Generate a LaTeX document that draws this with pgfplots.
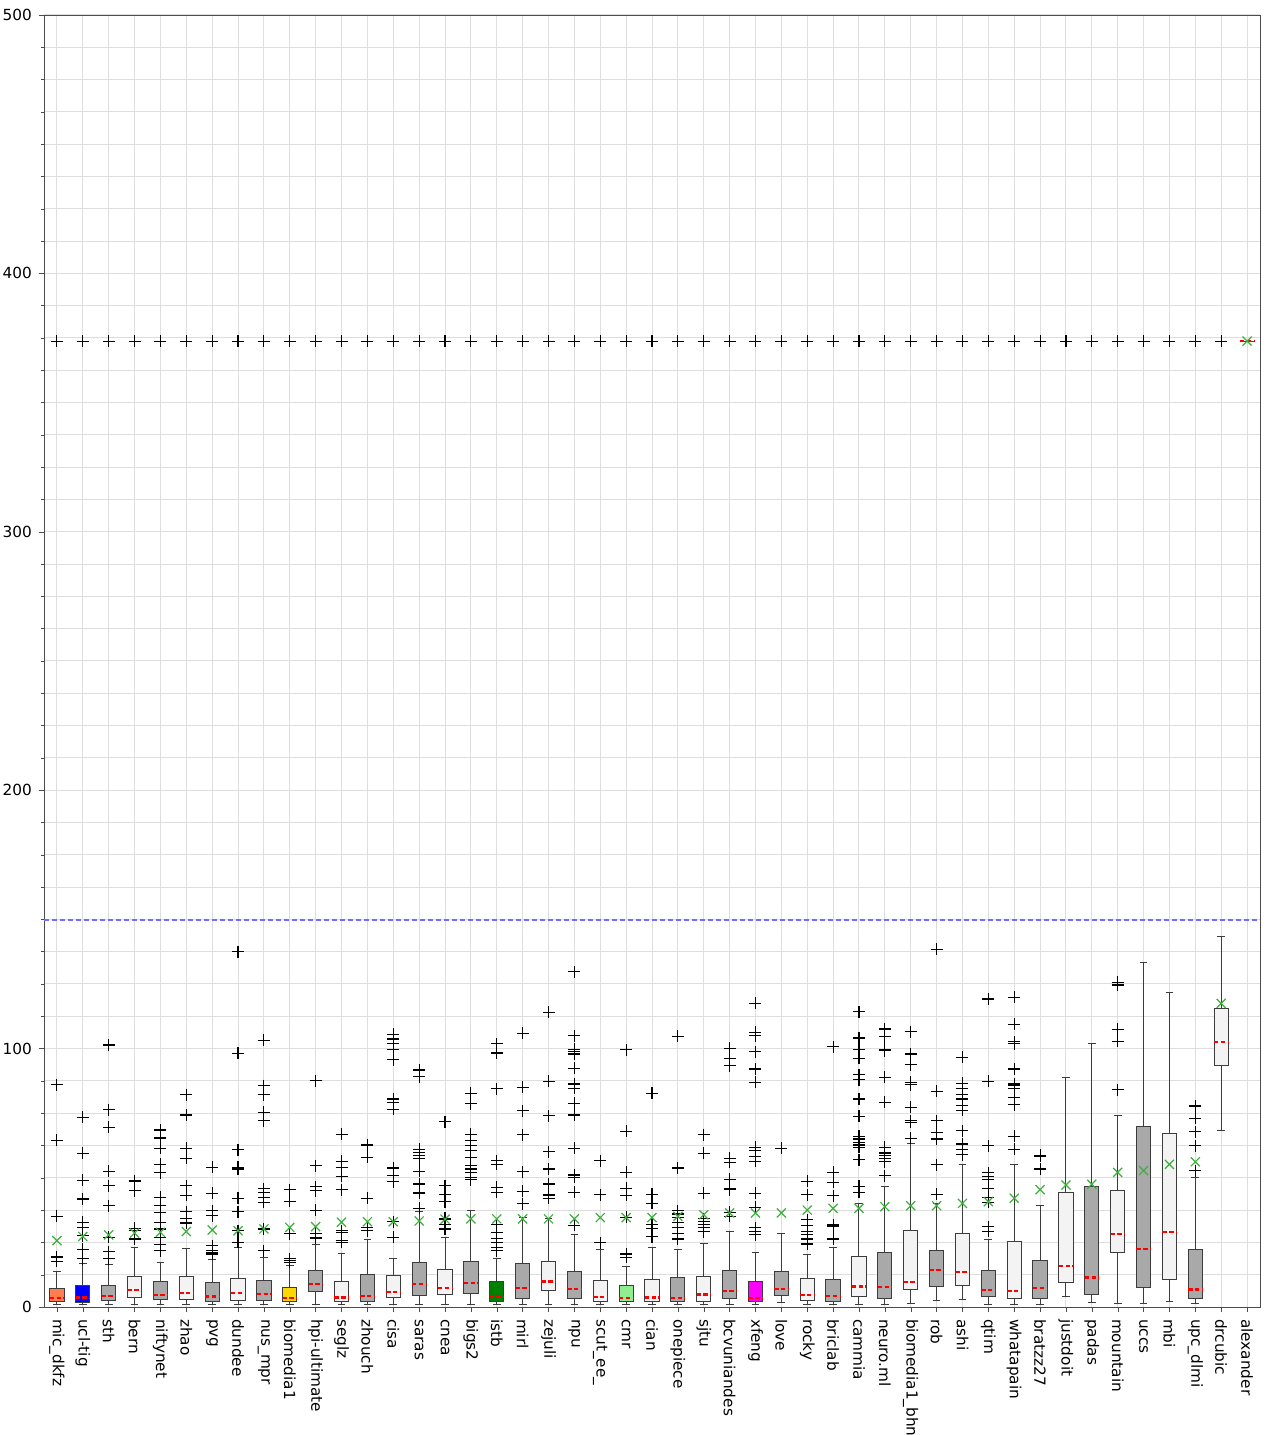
\documentclass[border=0pt]{standalone}
\usepackage{pgfplots}
\pgfplotsset{compat=1.18}
\usepgfplotslibrary{statistics}
\usepackage{fontspec}
\setmainfont{DejaVu Sans}
\definecolor{boxgray}{RGB}{169,169,169}
\definecolor{boxwhite}{RGB}{243,243,243}
\definecolor{micc}{RGB}{255,127,80}
\definecolor{meangreen}{RGB}{60,175,60}
\definecolor{boxedge}{RGB}{60,60,60}
\definecolor{refblue}{RGB}{110,110,255}
\definecolor{mag}{RGB}{255,0,255}
\definecolor{pureblue}{RGB}{0,0,255}
\definecolor{gold}{RGB}{255,215,0}
\definecolor{dgreen}{RGB}{0,128,0}
\definecolor{lgreen}{RGB}{144,238,144}
\newcommand{\bp}[8]{\addplot[boxplot prepared={draw position=#1,lower whisker=#3,lower quartile=#4,median=#5,upper quartile=#6,upper whisker=#7}, fill=#2, draw=boxedge, line width=0.5pt, mark=+, mark size=3pt, mark options={draw=black, solid, line width=0.55pt}] table[row sep=\\, y index=0, header=false] {#8};}
\begin{document}
\begin{tikzpicture}
\useasboundingbox (-22pt,-64pt) rectangle (613.5pt,653.5pt);
\begin{axis}[
  scale only axis, width=608pt, height=646pt,
  xmin=-0.5, xmax=46.5, ymin=0, ymax=500,
  xtick={0,...,46},
  xticklabels={mic\_dkfz,ucl-tig,sth,bern,niftynet,zhao,pvg,dundee,nus\_mpr,biomedia1,hpi-ultimate,seglz,zhouch,cisa,saras,cnea,bigs2,istb,mirl,zejuli,npu,scut\_ee\_,cmr,cian,onepiece,sjtu,bcvuniandes,xfeng,love,rocky,briclab,cammia,neuro.ml,biomedia1\_bhn,rob,ashi,qtim,whatapain,bratzz27,justdoit,padas,mountain,uccs,mbi,upc\_dlmi,drcubic,alexander},
  xticklabel style={rotate=-90, anchor=west, font=\fontsize{7.65}{9}\selectfont},
  yticklabel style={font=\fontsize{7.65}{9}\selectfont},
  ytick={0,100,...,500}, minor y tick num=7,
  tick pos=left, tick align=outside,
  major tick length=2.5pt, minor tick length=1.5pt,
  grid=both,
  major grid style={black!13, line width=0.5pt},
  minor grid style={black!13, line width=0.5pt},
  axis line style={black!70},
  tick style={black!70},
  /pgf/number format/assume math mode=true,
  boxplot/draw direction=y,
  boxplot/box extend=0.55, boxplot/whisker extend=0.3,
  boxplot/every median/.style={draw=red, solid, line width=1.1pt, dash pattern=on 2.2pt off 1.2pt},
]
\bp{0}{micc}{1.0}{2.1}{3.4}{7.0}{13.8}{17.7\\19.2\\19.5\\35.1\\64.5\\86.0\\373.8\\}
\bp{1}{pureblue}{1.0}{1.8}{3.7}{8.5}{17.0}{18.6\\22.4\\27.6\\30.6\\32.8\\41.8\\49.1\\59.5\\73.4\\373.8\\}
\bp{2}{boxgray}{1.0}{2.5}{4.4}{8.5}{16.6}{18.6\\21.4\\27.0\\39.2\\47.0\\52.6\\69.5\\76.4\\101.4\\373.8\\}
\bp{3}{boxwhite}{1.0}{3.5}{6.6}{11.9}{23.1}{26.3\\29.5\\30.4\\45.0\\48.6\\48.9\\373.8\\}
\bp{4}{boxgray}{1.0}{2.8}{4.6}{9.9}{17.3}{21.8\\24.1\\27.0\\30.2\\32.8\\36.6\\39.2\\42.4\\51.9\\55.3\\61.5\\65.4\\68.5\\373.8\\}
\bp{5}{boxwhite}{1.0}{2.8}{5.3}{11.7}{22.7}{32.5\\34.3\\36.9\\43.3\\47.0\\57.5\\61.4\\74.3\\82.2\\373.8\\}
\bp{6}{boxgray}{1.0}{2.2}{4.1}{9.3}{18.2}{20.5\\21.2\\21.8\\23.7\\35.3\\37.3\\44.0\\54.1\\373.8\\}
\bp{7}{boxwhite}{1.0}{2.5}{5.3}{11.1}{23.1}{25.0\\29.5\\36.9\\42.1\\53.4\\54.1\\60.8\\98.2\\137.5\\373.8\\}
\bp{8}{boxgray}{1.0}{2.5}{5.0}{10.4}{19.2}{21.8\\30.2\\40.5\\42.4\\44.4\\45.7\\72.1\\75.3\\82.2\\85.7\\103.3\\373.8\\}
\bp{9}{gold}{1.0}{2.1}{3.4}{7.4}{16.0}{17.3\\17.9\\18.6\\28.3\\28.5\\40.9\\45.3\\373.8\\}
\bp{10}{boxgray}{1.0}{5.9}{9.0}{14.2}{24.1}{26.7\\28.6\\37.5\\45.0\\46.6\\54.7\\87.5\\373.8\\}
\bp{11}{boxwhite}{1.0}{2.2}{3.7}{9.8}{20.8}{25.0\\25.7\\28.9\\29.5\\45.3\\50.6\\54.1\\56.4\\66.9\\373.8\\}
\bp{12}{boxgray}{1.0}{2.1}{4.4}{12.5}{26.3}{29.5\\30.8\\42.1\\57.9\\62.7\\373.8\\}
\bp{13}{boxwhite}{1.0}{3.7}{5.9}{12.1}{18.6}{27.0\\33.0\\48.5\\50.8\\53.8\\76.6\\79.2\\80.5\\95.7\\99.8\\102.0\\103.7\\105.6\\373.8\\}
\bp{14}{boxgray}{1.0}{4.4}{9.0}{17.3}{37.0}{38.2\\44.1\\47.6\\52.5\\57.3\\58.6\\59.9\\61.1\\89.1\\91.7\\373.8\\}
\bp{15}{boxwhite}{1.0}{4.9}{7.4}{14.7}{27.0}{30.2\\32.1\\33.8\\34.3\\40.8\\43.7\\47.0\\71.7\\373.8\\}
\bp{16}{boxgray}{1.0}{5.3}{9.3}{17.7}{37.5}{49.3\\50.2\\51.9\\53.4\\54.7\\57.9\\60.5\\62.4\\64.4\\66.9\\78.6\\82.7\\373.8\\}
\bp{17}{dgreen}{1.0}{2.1}{4.0}{9.9}{18.8}{21.8\\23.1\\24.8\\26.6\\28.9\\32.1\\44.4\\46.3\\55.3\\56.6\\84.4\\98.3\\101.8\\373.8\\}
\bp{18}{boxgray}{1.0}{3.1}{7.2}{16.8}{34.7}{39.9\\44.8\\52.4\\66.6\\76.0\\85.0\\106.0\\373.8\\}
\bp{19}{boxwhite}{1.0}{6.3}{9.9}{17.7}{34.1}{42.1\\43.0\\43.7\\47.6\\53.4\\60.1\\74.0\\87.3\\114.0\\373.8\\}
\bp{20}{boxgray}{1.0}{3.4}{7.0}{13.8}{28.0}{31.7\\44.4\\50.2\\51.1\\61.5\\74.3\\78.8\\84.6\\86.3\\92.4\\97.9\\98.9\\99.8\\105.0\\129.8\\373.8\\}
\bp{21}{boxwhite}{1.0}{2.2}{4.0}{10.2}{22.4}{24.8\\43.5\\56.6\\373.8\\}
\bp{22}{lgreen}{1.0}{2.1}{3.4}{8.3}{15.7}{19.2\\20.5\\34.7\\43.3\\45.9\\52.1\\68.0\\99.5\\373.8\\}
\bp{23}{boxwhite}{1.0}{2.2}{3.7}{10.6}{23.1}{27.2\\30.4\\32.1\\40.2\\43.7\\82.7\\373.8\\}
\bp{24}{boxgray}{1.0}{2.1}{3.5}{11.5}{22.1}{26.3\\28.6\\30.8\\32.8\\34.7\\36.0\\37.3\\53.8\\104.7\\373.8\\}
\bp{25}{boxwhite}{1.0}{2.2}{4.8}{11.9}{24.4}{29.2\\30.8\\32.1\\33.0\\34.1\\44.0\\59.5\\66.7\\373.8\\}
\bp{26}{boxgray}{1.0}{3.1}{6.3}{14.1}{29.3}{35.1\\36.6\\45.4\\45.7\\49.5\\56.0\\57.5\\93.4\\96.2\\100.2\\373.8\\}
\bp{27}{mag}{1.0}{2.1}{3.4}{9.8}{21.2}{27.9\\29.2\\30.6\\38.6\\44.0\\56.4\\58.2\\60.5\\61.8\\86.9\\92.1\\98.8\\105.0\\106.3\\117.6\\373.8\\}
\bp{28}{boxgray}{1.8}{4.4}{7.0}{13.8}{28.3}{61.4\\373.8\\}
\bp{29}{boxwhite}{1.0}{2.7}{4.6}{11.1}{20.5}{24.4\\26.3\\27.9\\29.2\\31.5\\33.7\\43.5\\48.6\\373.8\\}
\bp{30}{boxgray}{1.0}{2.2}{4.4}{10.8}{23.1}{26.3\\31.1\\31.5\\31.9\\43.1\\48.2\\52.1\\100.7\\373.8\\}
\bp{31}{boxwhite}{1.0}{4.0}{7.9}{19.5}{39.9}{44.4\\46.7\\57.0\\61.8\\62.7\\63.7\\65.0\\66.0\\73.8\\80.5\\88.0\\89.9\\96.2\\99.8\\104.1\\114.3\\373.8\\}
\bp{32}{boxgray}{1.0}{3.4}{7.6}{21.2}{46.6}{50.8\\56.3\\56.4\\57.5\\58.6\\59.6\\61.8\\79.2\\88.9\\99.2\\99.8\\104.6\\107.6\\373.8\\}
\bp{33}{boxwhite}{1.5}{6.6}{9.8}{29.5}{63.3}{65.3\\71.5\\72.1\\77.3\\86.0\\86.9\\93.8\\97.9\\106.6\\373.8\\}
\bp{34}{boxgray}{2.5}{8.0}{14.4}{21.8}{39.9}{43.7\\55.0\\65.0\\67.6\\72.1\\83.5\\138.5\\373.8\\}
\bp{35}{boxwhite}{2.8}{8.3}{13.7}{28.3}{55.0}{59.0\\60.9\\63.1\\68.2\\76.2\\77.9\\80.5\\82.4\\84.6\\86.6\\96.6\\373.8\\}
\bp{36}{boxgray}{1.0}{4.0}{6.6}{14.1}{26.3}{29.3\\31.1\\40.5\\42.4\\45.9\\49.5\\50.6\\51.9\\62.4\\87.3\\119.2\\373.8\\}
\bp{37}{boxwhite}{1.0}{3.4}{6.3}{25.4}{55.3}{61.1\\66.0\\78.3\\81.1\\84.4\\85.7\\86.3\\92.1\\101.8\\102.7\\109.5\\119.8\\373.8\\}
\bp{38}{boxgray}{1.0}{3.1}{7.2}{17.9}{39.2}{53.4\\58.3\\58.8\\373.8\\}
\bp{39}{boxwhite}{4.0}{9.4}{16.0}{44.2}{88.8}{373.8\\}
\bp{40}{boxgray}{1.8}{5.0}{11.4}{46.6}{101.8}{373.8\\}
\bp{41}{boxwhite}{1.2}{21.2}{28.3}{45.0}{74.0}{84.0\\102.9\\107.5\\124.6\\125.6\\373.8\\}
\bp{42}{boxgray}{1.2}{7.5}{22.4}{69.8}{133.4}{373.8\\}
\bp{43}{boxwhite}{2.1}{10.7}{28.9}{67.0}{121.8}{373.8\\}
\bp{44}{boxgray}{1.2}{3.4}{6.8}{22.3}{50.2}{52.8\\62.4\\67.9\\73.0\\77.8\\373.8\\}
\bp{45}{boxwhite}{68.2}{93.4}{102.7}{115.6}{143.3}{373.8\\}
\addplot[boxplot prepared={draw position=46,lower whisker=373.8,lower quartile=373.8,median=373.8,upper quartile=373.8,upper whisker=373.8}, draw=red, line width=0.5pt, mark=none] table[row sep=\\, y index=0, header=false] {373.8\\};
\addplot[only marks, mark=x, mark size=3.2pt, draw=meangreen, mark options={draw=meangreen, solid, line width=0.6pt}] coordinates {
(0,25.7) (1,27.3) (2,27.9) (3,28.6) (4,28.9) (5,29.2) (6,29.8) (7,29.5) (8,30.2) (9,30.8)
(10,31.1) (11,32.8) (12,33.0) (13,33.0) (14,33.3) (15,34.0) (16,34.1) (17,34.1) (18,34.1) (19,34.1)
(20,34.1) (21,34.6) (22,34.6) (23,34.6) (24,35.1) (25,35.7) (26,36.4) (27,36.4) (28,36.4) (29,37.5)
(30,38.2) (31,38.2) (32,38.8) (33,39.2) (34,39.2) (35,40.1) (36,40.8) (37,42.1) (38,45.4) (39,47.2)
(40,47.5) (41,52.1) (42,52.8) (43,55.2) (44,56.2) (45,117.5) (46,373.8)
};
\addplot[color=refblue, solid, dash pattern=on 2.5pt off 1.5pt, line width=0.6pt, mark=none] coordinates {(-0.5,149.8) (46.5,149.8)};
\end{axis}
\end{tikzpicture}
\end{document}
